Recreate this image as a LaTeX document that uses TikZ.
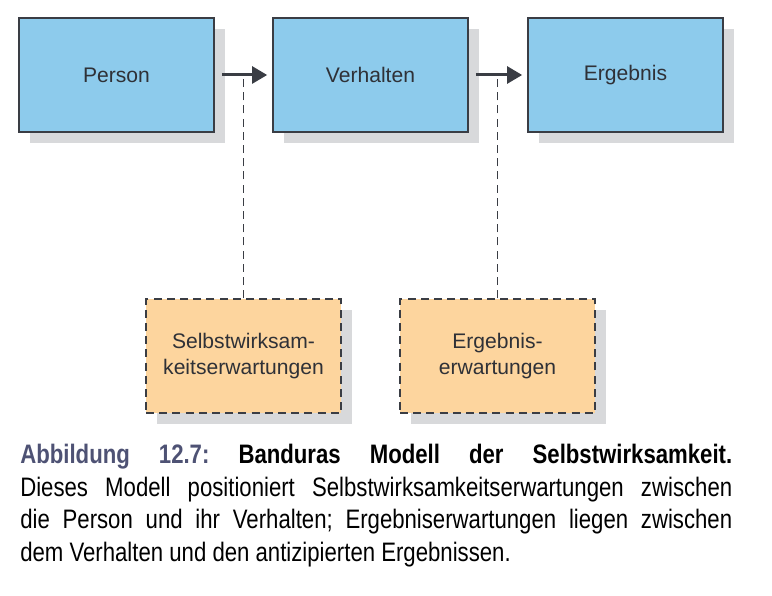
\documentclass[tikz,border=0pt]{standalone}
\usepackage{fontspec}
\usepackage{color}
\usepackage{tikz}
\usetikzlibrary{arrows.meta,shadows}

\newfontfamily\boxfamily{Liberation Sans}
\newfontfamily\capfamily[FakeStretch=0.83]{Liberation Sans}
\newcommand{\boxfont}{\boxfamily\fontsize{15}{18.5}\selectfont}
\newcommand{\capfont}{\capfamily\fontsize{19}{23.2}\selectfont\frenchspacing}

\definecolor{boxblue}{HTML}{8DCBEC}
\definecolor{boxorange}{HTML}{FDD59E}
\definecolor{shadowgray}{HTML}{D8D9DB}
\definecolor{boxline}{HTML}{3A3D44}
\definecolor{textgray}{HTML}{2F3137}
\definecolor{capblue}{HTML}{4E5274}

\begin{document}
\begin{tikzpicture}[node distance=6.35cm]
  \tikzstyle{mainbox}=[rectangle,draw=boxline,line width=0.04cm,fill=boxblue,text=textgray,minimum width=4.875cm,minimum height=2.85cm,font=\boxfont,align=center,drop shadow={shadow xshift=0.275cm,shadow yshift=-0.275cm,fill=shadowgray,opacity=1}]
  \tikzstyle{erwbox}=[mainbox,fill=boxorange,line width=0.035cm,dash pattern=on 0.2cm off 0.13cm]
  \tikzstyle{conn}=[draw=boxline,line width=0.075cm,-{Triangle[length=0.375cm,width=0.42cm]},shorten <=0.175cm,shorten >=0.125cm]
  \tikzstyle{dline}=[draw=boxline,line width=0.03cm,dash pattern=on 0.2cm off 0.13cm]
  \useasboundingbox (0,0) rectangle (19.3,-14.9);

  \node[mainbox] (person) at (2.9125,-1.875) {Person};
  \node[mainbox, right of=person] (verhalten) {Verhalten};
  \node[mainbox, right of=verhalten, xshift=0.025cm] (ergebnis) {Ergebnis};

  % expectations
  \node[erwbox, below of=person, node distance=7.025cm, xshift=3.175cm] (selbst) {Selbstwirksam-\\keitserwartungen};
  \node[erwbox, right of=selbst] (ergerw) {Ergebnis-\\erwartungen};

  % edges
  \draw[dline] (selbst) -- (selbst |- person);
  \draw[dline] (ergerw) -- (ergerw |- verhalten);
  \draw[conn] (person) -- (verhalten);
  \draw[conn] (verhalten) -- (ergebnis);

  % caption
  \node[anchor=north west, text width=17.8cm, inner sep=0pt, align=justify, font=\capfont] (caption) at (0.5,-11.1)
    {\hyphenpenalty=10000 \textbf{\textcolor{capblue}{Abbildung 12.7:} Banduras Modell der Selbstwirksamkeit.}\linebreak
     Dieses Modell positioniert Selbstwirksamkeitserwartungen zwischen\linebreak
     die Person und ihr Verhalten; Ergebniserwartungen liegen zwischen\linebreak
     dem Verhalten und den antizipierten Ergebnissen.};

\end{tikzpicture}
\end{document}
